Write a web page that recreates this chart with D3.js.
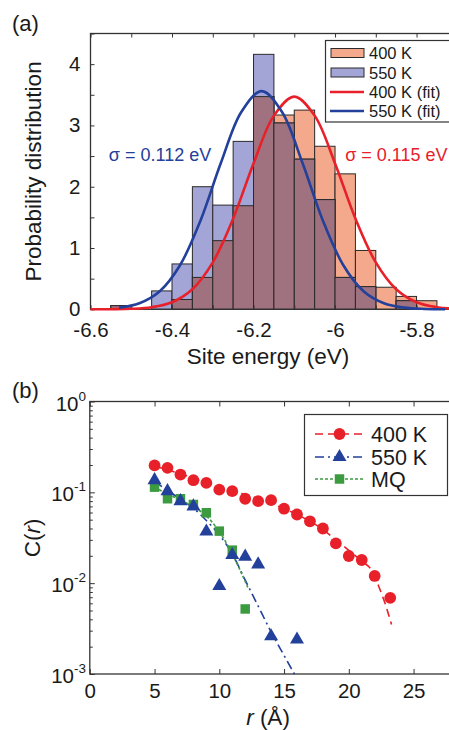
<!DOCTYPE html>
<html>
<head>
<meta charset="utf-8">
<title>Site energy distribution and correlation</title>
<script src="https://d3js.org/d3.v7.min.js"></script>
<style>
  body { margin: 0; background: #fff; }
  text { font-family: "Liberation Sans", Arial, sans-serif; fill: #1a1a1a; }
</style>
</head>
<body>
<div id="vis"></div>
<script>
// ---- panel (a): histograms, 0.05 eV bins ----
var binStart = [-6.55, -6.50, -6.45, -6.40, -6.35, -6.30, -6.25, -6.20, -6.15, -6.10, -6.05, -6.00, -5.95, -5.90, -5.85, -5.80];
var binWidth = 0.05;
var prob400 = [0.06, 0, 0, 0.16, 0.52, 1.12, 1.69, 3.47, 3.17, 3.25, 2.66, 2.21, 0.96, 0.36, 0.21, 0.14];
var prob550 = [0.06, 0, 0.30, 0.74, 2.00, 1.70, 2.74, 4.16, 3.04, 2.45, 1.79, 0.52, 0.37, 0, 0.14, 0];

// gaussian fit curves
var fitE400 = [-6.60, -6.55, -6.50, -6.45, -6.40, -6.35, -6.30, -6.25, -6.20, -6.15, -6.10, -6.05, -6.00, -5.95, -5.90, -5.85, -5.80, -5.75, -5.70];
var fitP400 = [0.0, 0.002, 0.008, 0.034, 0.115, 0.327, 0.765, 1.48, 2.38, 3.16, 3.47, 3.16, 2.38, 1.48, 0.765, 0.327, 0.115, 0.034, 0.008];
var fitE550 = [-6.53, -6.48, -6.43, -6.38, -6.33, -6.28, -6.23, -6.18, -6.13, -6.08, -6.03, -5.98, -5.93, -5.88, -5.83, -5.78, -5.73];
var fitP550 = [0.027, 0.099, 0.295, 0.723, 1.45, 2.39, 3.22, 3.56, 3.22, 2.39, 1.45, 0.723, 0.295, 0.099, 0.027, 0.006, 0.001];

var eTicks = [-6.6, -6.4, -6.2, -6, -5.8];
var pTicks = [0, 1, 2, 3, 4];

// ---- panel (b): correlation C(r) ----
var r400 = [5, 6, 7, 8, 9, 10, 11, 12, 13, 14, 15, 16, 17, 18, 19, 20, 21, 22, 23.2];
var c400 = [0.198, 0.186, 0.157, 0.136, 0.127, 0.107, 0.103, 0.085, 0.080, 0.082, 0.066, 0.057, 0.048, 0.040, 0.0274, 0.0199, 0.0180, 0.0120, 0.0069];
var r550 = [5, 6, 7, 8, 9, 10, 11, 12, 13, 14, 16];
var c550 = [0.136, 0.103, 0.080, 0.070, 0.037, 0.0093, 0.0204, 0.0196, 0.0161, 0.0026, 0.0024];
var rMQ = [5, 6, 7, 8, 9, 10, 11, 12];
var cMQ = [0.114, 0.085, 0.085, 0.0735, 0.0596, 0.0374, 0.0231, 0.0052];

var fitR400 = [5, 7, 9, 11, 13, 15, 17, 18, 19, 20, 21, 21.8, 22.3, 22.8, 23.3];
var fitC400 = [0.195, 0.16, 0.128, 0.104, 0.085, 0.066, 0.048, 0.039, 0.030, 0.023, 0.0175, 0.0136, 0.0093, 0.0060, 0.0035];
var fitR550 = [5, 6, 7, 8, 9, 10, 11, 12, 13, 14, 15, 15.8];
var fitC550 = [0.132, 0.105, 0.084, 0.067, 0.049, 0.034, 0.021, 0.0108, 0.0056, 0.0029, 0.0016, 0.001];
var fitRMQ = [5, 6, 7, 8, 9, 10, 11, 12.2];
var fitCMQ = [0.114, 0.096, 0.082, 0.069, 0.055, 0.037, 0.021, 0.009];

var rTicks = [0, 5, 10, 15, 20, 25];
var cTicks = [1e-3, 1e-2, 1e-1, 1];
var cExp = ["-3", "-2", "-1", "0"];

// colours
var col400 = "#f4a98c", col550 = "#a2a5d5", colBoth = "#a0727f";
var red = "#e8202a", blue = "#23409a", green = "#3c9a40";
var frame = "#333";
var tickFont = "20.5px", labelFont = "22.5px";

var svg = d3.select("#vis").append("svg")
  .attr("width", 449)
  .attr("height", 730);

// ============ panel (a) ============
var xa = d3.scaleLinear().domain([-6.6, -5.7]).range([90.5, 457.3]);
var ya = d3.scaleLinear().domain([0, 4.5]).range([309.3, 33.5]);

var bins = binStart.map(function(b, i) {
  return { x0: b, x1: b + binWidth, p4: prob400[i], p5: prob550[i] };
});

function barRect(sel, key) {
  sel.attr("x", function(d){ return xa(d.x0); })
    .attr("width", function(d){ return xa(d.x1) - xa(d.x0); })
    .attr("y", function(d){ return ya(d[key]); })
    .attr("height", function(d){ return ya(0) - ya(d[key]); })
    .attr("stroke", "#2a2a2a")
    .attr("stroke-width", 1);
}

var ga = svg.append("g");
ga.selectAll(".b400").data(bins.filter(function(d){ return d.p4 > 0; }))
  .enter().append("rect").attr("class", "b400").attr("fill", col400).call(barRect, "p4");
ga.selectAll(".b550").data(bins.filter(function(d){ return d.p5 > 0; }))
  .enter().append("rect").attr("class", "b550").attr("fill", col550).call(barRect, "p5");
bins.forEach(function(d){ d.pm = Math.min(d.p4, d.p5); });
ga.selectAll(".both").data(bins.filter(function(d){ return d.pm > 0; }))
  .enter().append("rect").attr("class", "both").attr("fill", colBoth).call(barRect, "pm");

// axes of (a)
var eMinor = d3.range(0, 10).map(function(i){ return +(-6.6 + i * 0.1).toFixed(1); });
var xAxisA = d3.axisBottom(xa).tickValues(eMinor).tickSizeInner(-4).tickSizeOuter(0).tickPadding(13)
  .tickFormat(function(d){ return eTicks.indexOf(d) >= 0 ? String(d) : ""; });
svg.append("g").attr("transform", "translate(0," + ya(0) + ")").attr("color", frame)
  .call(xAxisA).call(function(g){ g.select(".domain").remove(); })
  .selectAll("text").attr("font-size", tickFont).attr("fill", "#1a1a1a");
svg.append("g").attr("transform", "translate(0," + ya(4.5) + ")").attr("color", frame)
  .call(d3.axisTop(xa).tickValues(eMinor).tickSizeInner(-4).tickSizeOuter(0).tickFormat(""))
  .call(function(g){ g.select(".domain").remove(); });

var pMinor = d3.range(0, 10).map(function(i){ return i * 0.5; });
svg.append("g").attr("transform", "translate(" + xa(-6.6) + ",0)").attr("color", frame)
  .call(d3.axisLeft(ya).tickValues(pMinor).tickSizeInner(-4).tickSizeOuter(0).tickPadding(10)
    .tickFormat(function(d){ return pTicks.indexOf(d) >= 0 ? String(d) : ""; }))
  .call(function(g){ g.select(".domain").remove(); })
  .selectAll("text").attr("font-size", tickFont).attr("fill", "#1a1a1a");

svg.append("rect")
  .attr("x", xa(-6.6)).attr("y", ya(4.5))
  .attr("width", xa(-5.7) - xa(-6.6)).attr("height", ya(0) - ya(4.5))
  .attr("fill", "none").attr("stroke", frame).attr("stroke-width", 1.3);

// fit curves
var lineA = d3.line().curve(d3.curveCatmullRom)
  .x(function(d){ return xa(d[0]); }).y(function(d){ return ya(d[1]); });
svg.append("path").datum(d3.zip(fitE400, fitP400)).attr("d", lineA)
  .attr("fill", "none").attr("stroke", red).attr("stroke-width", 2.6);
svg.append("path").datum(d3.zip(fitE550, fitP550)).attr("d", lineA)
  .attr("fill", "none").attr("stroke", blue).attr("stroke-width", 2.6);

svg.append("text").attr("x", xa(-6.555)).attr("y", ya(2.42))
  .attr("font-size", "18px").style("fill", blue).text("σ = 0.112 eV");
svg.append("text").attr("x", xa(-5.975)).attr("y", ya(2.42))
  .attr("font-size", "18px").style("fill", red).text("σ = 0.115 eV");

// legend (a)
var legA = svg.append("g");
legA.append("rect").attr("x", 325.5).attr("y", 40.5).attr("width", 130).attr("height", 81.5)
  .attr("fill", "#fff").attr("stroke", frame).attr("stroke-width", 1.2);
var legAItems = [
  { label: "400 K", type: "patch", color: col400, y: 53 },
  { label: "550 K", type: "patch", color: col550, y: 72.5 },
  { label: "400 K (fit)", type: "line", color: red, y: 92 },
  { label: "550 K (fit)", type: "line", color: blue, y: 111 }
];
legAItems.forEach(function(it) {
  if (it.type == "patch") {
    legA.append("rect").attr("x", 331).attr("y", it.y - 4.5).attr("width", 33).attr("height", 9)
      .attr("fill", it.color).attr("stroke", "#2a2a2a").attr("stroke-width", 1);
  } else {
    legA.append("line").attr("x1", 330).attr("x2", 364).attr("y1", it.y).attr("y2", it.y)
      .attr("stroke", it.color).attr("stroke-width", 2.6);
  }
  legA.append("text").attr("x", 369).attr("y", it.y + 6).attr("font-size", "16.5px").text(it.label);
});

svg.append("text").attr("x", 12).attr("y", 31).attr("font-size", "22px").text("(a)");
svg.append("text").attr("transform", "translate(41," + ((ya(0) + ya(4.5)) / 2) + ") rotate(-90)")
  .attr("text-anchor", "middle").attr("font-size", labelFont).text("Probability distribution");
svg.append("text").attr("x", 268).attr("y", 364).attr("text-anchor", "middle")
  .attr("font-size", labelFont).text("Site energy (eV)");

// ============ panel (b) ============
var xb = d3.scaleLinear().domain([0, 28]).range([89.8, 89.8 + 28 * 12.95]);
var yb = d3.scaleLog().domain([1e-3, 1]).range([674, 401.5]);

var cAll = [];
[1e-3, 1e-2, 1e-1].forEach(function(dec) {
  for (var k = 1; k < 10; k++) cAll.push(dec * k);
});
cAll.push(1);
function isMajor(d) { return Math.abs(Math.log10(d) - Math.round(Math.log10(d))) < 1e-6; }

var yAxisB = svg.append("g").attr("transform", "translate(" + xb(0) + ",0)").attr("color", frame)
  .call(d3.axisLeft(yb).tickValues(cAll).tickSizeInner(-5).tickSizeOuter(0).tickFormat(""))
  .call(function(g){ g.select(".domain").remove(); });
yAxisB.selectAll(".tick line").attr("x2", function(d){ return isMajor(d) ? 5 : 3; });

cTicks.forEach(function(c, i) {
  var t = svg.append("text").attr("x", 86).attr("y", yb(c) + 9)
    .attr("text-anchor", "end").attr("font-size", tickFont);
  t.append("tspan").text("10");
  t.append("tspan").attr("dy", -10).attr("font-size", "13.5px").text(cExp[i]);
});

svg.append("g").attr("transform", "translate(0," + yb(1e-3) + ")").attr("color", frame)
  .call(d3.axisBottom(xb).tickValues(rTicks).tickSizeInner(-5).tickSizeOuter(0).tickPadding(9)
    .tickFormat(function(d){ return String(d); }))
  .call(function(g){ g.select(".domain").remove(); })
  .selectAll("text").attr("font-size", tickFont).attr("fill", "#1a1a1a");
svg.append("g").attr("transform", "translate(0," + yb(1) + ")").attr("color", frame)
  .call(d3.axisTop(xb).tickValues(rTicks).tickSizeInner(-5).tickSizeOuter(0).tickFormat(""))
  .call(function(g){ g.select(".domain").remove(); });

svg.append("rect")
  .attr("x", xb(0)).attr("y", yb(1))
  .attr("width", xb(28) - xb(0)).attr("height", yb(1e-3) - yb(1))
  .attr("fill", "none").attr("stroke", frame).attr("stroke-width", 1.3);

var lineB = d3.line().curve(d3.curveMonotoneX)
  .x(function(d){ return xb(d[0]); }).y(function(d){ return yb(d[1]); });

var series = [
  { fr: fitR400, fc: fitC400, r: r400, c: c400, color: red, dash: "8,5", sym: "circle", label: "400 K" },
  { fr: fitR550, fc: fitC550, r: r550, c: c550, color: blue, dash: "9,4,2,4", sym: "tri", label: "550 K" },
  { fr: fitRMQ, fc: fitCMQ, r: rMQ, c: cMQ, color: green, dash: "3,2", sym: "square", label: "MQ" }
];

function addMarker(g, s, x, y) {
  if (s.sym == "circle") {
    g.append("circle").attr("cx", x).attr("cy", y).attr("r", 5.9).attr("fill", s.color);
  } else if (s.sym == "tri") {
    g.append("path").attr("transform", "translate(" + x + "," + y + ")")
      .attr("d", d3.symbol(d3.symbolTriangle, 85)()).attr("fill", s.color);
  } else {
    g.append("path").attr("transform", "translate(" + x + "," + y + ")")
      .attr("d", d3.symbol(d3.symbolSquare, 90)()).attr("fill", s.color);
  }
}

var gb = svg.append("g");
series.forEach(function(s) {
  gb.append("path").datum(d3.zip(s.fr, s.fc)).attr("d", lineB)
    .attr("fill", "none").attr("stroke", s.color).attr("stroke-width", 1.6)
    .attr("stroke-dasharray", s.dash);
});
series.slice().reverse().forEach(function(s) {
  s.r.forEach(function(r, i) { addMarker(gb, s, xb(r), yb(s.c[i])); });
});

// legend (b)
var legB = svg.append("g");
legB.append("rect").attr("x", 304.5).attr("y", 414.5).attr("width", 143).attr("height", 81)
  .attr("fill", "#fff").attr("stroke", frame).attr("stroke-width", 1.2);
var legBy = [434, 457, 479];
series.forEach(function(s, i) {
  var y = legBy[i];
  legB.append("line").attr("x1", 315).attr("x2", 364).attr("y1", y).attr("y2", y)
    .attr("stroke", s.color).attr("stroke-width", 1.6).attr("stroke-dasharray", s.dash);
  addMarker(legB, s, 339.5, y);
  legB.append("text").attr("x", 371).attr("y", y + 8).attr("font-size", "21.5px").text(s.label);
});

svg.append("text").attr("x", 12).attr("y", 398).attr("font-size", "22px").text("(b)");
var cl = svg.append("text").attr("transform", "translate(40," + ((yb(1) + yb(1e-3)) / 2) + ") rotate(-90)")
  .attr("text-anchor", "middle").attr("font-size", labelFont);
cl.append("tspan").text("C(");
cl.append("tspan").attr("font-style", "italic").text("r");
cl.append("tspan").text(")");
var rl = svg.append("text").attr("x", 268).attr("y", 725).attr("text-anchor", "middle").attr("font-size", labelFont);
rl.append("tspan").attr("font-style", "italic").text("r");
rl.append("tspan").text(" (Å)");
</script>
</body>
</html>
